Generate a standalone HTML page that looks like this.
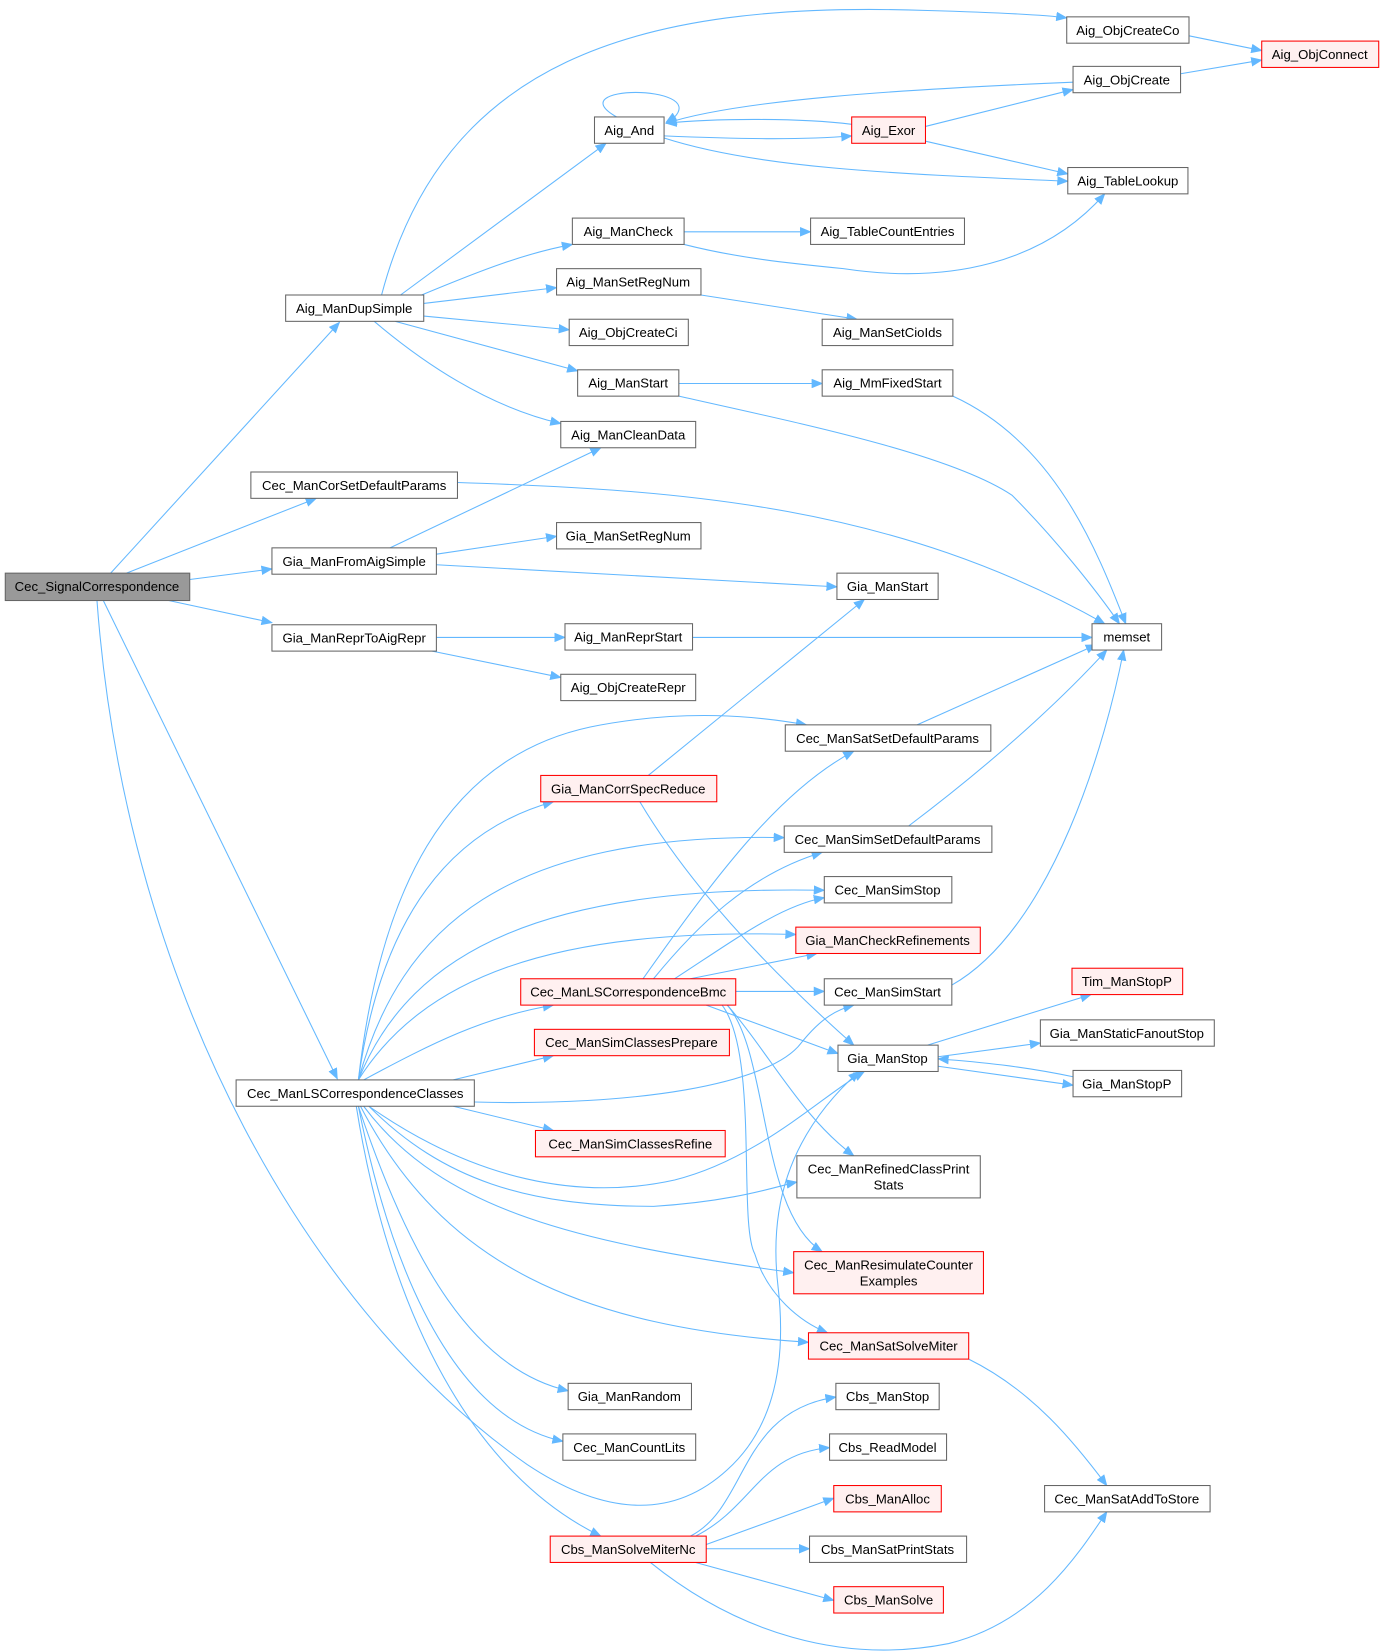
<!DOCTYPE html>
<html><head><meta charset="utf-8"><style>
html,body{margin:0;padding:0;background:#fff;}
svg{display:block;}
text{font-family:"Liberation Sans",Arial,sans-serif;font-size:12.5px;fill:#000;text-anchor:middle;}
.n{fill:#fff;stroke:#666;stroke-width:1;}
.r{fill:#fff0f0;stroke:#ff0000;stroke-width:1;}
.g{fill:#999;stroke:#666;stroke-width:1;}
.e{fill:none;stroke:#63b8ff;stroke-width:1;marker-end:url(#a);}
</style></head><body>
<svg width="1384" height="1652" viewBox="0 0 1313 1568" preserveAspectRatio="none">
<defs><marker id="a" markerWidth="11" markerHeight="9" refX="10" refY="4.5" orient="auto" markerUnits="userSpaceOnUse"><path d="M0,0 L11,4.5 L0,9 z" fill="#63b8ff"/></marker></defs>
<g>
<path class="e" d="M105,544 L322,306"/>
<path class="e" d="M120,544 L300,473"/>
<path class="e" d="M180,550 L258,540"/>
<path class="e" d="M160,570 L258,591"/>
<path class="e" d="M98,570 L320,1024"/>
<path class="e" d="M92,570 C120,950 300,1250 500,1390 C560,1430 630,1450 690,1395 C740,1350 745,1280 738,1220 C730,1150 745,1080 815,1017"/>
<path class="e" d="M362,280 C420,60 600,0 880,10 C950,12 990,14 1012,17"/>
<path class="e" d="M380,280 L575,136"/>
<path class="e" d="M400,280 C460,255 500,240 543,232"/>
<path class="e" d="M402,288 L528,273"/>
<path class="e" d="M402,300 L540,313"/>
<path class="e" d="M375,305 L548,352"/>
<path class="e" d="M355,305 C420,360 480,390 532,402"/>
<path class="e" d="M585,111 C530,80 670,80 640,111 L632,116"/>
<path class="e" d="M630,129 C700,132 760,133 808,129"/>
<path class="e" d="M808,118 C760,112 680,112 632,117"/>
<path class="e" d="M1018,78 C850,85 700,95 632,117"/>
<path class="e" d="M630,131 C720,160 850,165 1013,172"/>
<path class="e" d="M878,120 L1018,85"/>
<path class="e" d="M878,134 L1013,165"/>
<path class="e" d="M1128,34 L1197,48"/>
<path class="e" d="M1120,70 L1197,57"/>
<path class="e" d="M649,220 L769,220"/>
<path class="e" d="M649,232 C700,245 750,250 800,255 C900,270 990,250 1048,184"/>
<path class="e" d="M665,280 L813,303"/>
<path class="e" d="M644,364 L780,364"/>
<path class="e" d="M644,376 C750,400 900,430 960,470 C1000,510 1040,560 1062,592"/>
<path class="e" d="M904,376 C1000,420 1040,520 1068,592"/>
<path class="e" d="M434,458 C650,465 850,480 1048,592"/>
<path class="e" d="M370,520 L570,425"/>
<path class="e" d="M414,526 L528,509"/>
<path class="e" d="M414,536 L794,557"/>
<path class="e" d="M414,605 L536,605"/>
<path class="e" d="M410,618 L532,643"/>
<path class="e" d="M657,605 L1036,605"/>
<path class="e" d="M615,736 L820,569"/>
<path class="e" d="M870,688 L1040,612"/>
<path class="e" d="M862,784 C960,710 1020,650 1050,617"/>
<path class="e" d="M903,935 C1000,880 1050,700 1066,617"/>
<path class="e" d="M340,1025 C360,850 420,720 560,690 C650,672 720,680 765,688"/>
<path class="e" d="M340,1025 C360,880 420,790 525,761"/>
<path class="e" d="M340,1025 C380,880 480,790 744,795"/>
<path class="e" d="M340,1025 C390,900 520,840 782,845"/>
<path class="e" d="M340,1025 C400,930 520,880 755,887"/>
<path class="e" d="M345,1025 C410,990 460,965 525,954"/>
<path class="e" d="M430,1025 L525,1002"/>
<path class="e" d="M450,1046 C600,1050 730,1030 760,990 C780,965 795,958 810,954"/>
<path class="e" d="M430,1050 L525,1073"/>
<path class="e" d="M350,1050 C450,1120 550,1140 640,1120 C720,1100 780,1040 820,1017"/>
<path class="e" d="M350,1050 C420,1120 500,1145 620,1145 C700,1140 740,1125 756,1122"/>
<path class="e" d="M345,1050 C420,1150 550,1180 753,1208"/>
<path class="e" d="M342,1050 C420,1200 550,1260 767,1274"/>
<path class="e" d="M340,1050 C390,1200 450,1300 539,1320"/>
<path class="e" d="M340,1050 C380,1250 450,1350 534,1368"/>
<path class="e" d="M338,1050 C370,1250 450,1400 570,1458"/>
<path class="e" d="M610,929 C680,830 740,750 810,713"/>
<path class="e" d="M620,929 C660,880 710,830 780,809"/>
<path class="e" d="M640,929 C700,890 740,860 782,852"/>
<path class="e" d="M655,929 L775,905"/>
<path class="e" d="M698,941 L782,941"/>
<path class="e" d="M670,954 L795,1000"/>
<path class="e" d="M690,954 C730,1000 760,1060 810,1097"/>
<path class="e" d="M690,954 C730,1000 720,1150 780,1188"/>
<path class="e" d="M685,954 C720,1000 700,1160 716,1190 C728,1230 760,1255 785,1265"/>
<path class="e" d="M607,761 C660,850 740,930 810,992"/>
<path class="e" d="M880,992 L1035,944"/>
<path class="e" d="M890,1003 L987,990"/>
<path class="e" d="M1018,1022 C970,1012 930,1008 890,1005"/>
<path class="e" d="M890,1012 L1018,1030"/>
<path class="e" d="M919,1290 C980,1320 1020,1370 1050,1410"/>
<path class="e" d="M655,1458 C710,1430 700,1340 793,1326"/>
<path class="e" d="M660,1458 C715,1430 720,1380 787,1374"/>
<path class="e" d="M670,1466 L791,1422"/>
<path class="e" d="M670,1470 L768,1470"/>
<path class="e" d="M660,1483 L791,1519"/>
<path class="e" d="M617,1483 C700,1550 800,1580 900,1560 C980,1540 1020,1480 1050,1435"/>
</g>
<g>
<rect class="g" x="5" y="544" width="175" height="26"/><text x="92" y="561">Cec_SignalCorrespondence</text>
<rect class="n" x="271" y="280" width="131" height="25"/><text x="336" y="297">Aig_ManDupSimple</text>
<rect class="n" x="238" y="448" width="196" height="25"/><text x="336" y="465">Cec_ManCorSetDefaultParams</text>
<rect class="n" x="258" y="520" width="156" height="25"/><text x="336" y="537">Gia_ManFromAigSimple</text>
<rect class="n" x="258" y="593" width="156" height="25"/><text x="336" y="610">Gia_ManReprToAigRepr</text>
<rect class="n" x="224" y="1025" width="226" height="25"/><text x="337" y="1042">Cec_ManLSCorrespondenceClasses</text>
<rect class="n" x="1012" y="16" width="116" height="25"/><text x="1070" y="33">Aig_ObjCreateCo</text>
<rect class="r" x="1197" y="39" width="111" height="25"/><text x="1252" y="56">Aig_ObjConnect</text>
<rect class="n" x="1018" y="63" width="102" height="25"/><text x="1069" y="80">Aig_ObjCreate</text>
<rect class="n" x="564" y="111" width="66" height="25"/><text x="597" y="128">Aig_And</text>
<rect class="r" x="808" y="111" width="70" height="25"/><text x="843" y="128">Aig_Exor</text>
<rect class="n" x="1013" y="159" width="114" height="25"/><text x="1070" y="176">Aig_TableLookup</text>
<rect class="n" x="543" y="207" width="106" height="25"/><text x="596" y="224">Aig_ManCheck</text>
<rect class="n" x="769" y="207" width="146" height="25"/><text x="842" y="224">Aig_TableCountEntries</text>
<rect class="n" x="528" y="255" width="137" height="25"/><text x="596" y="272">Aig_ManSetRegNum</text>
<rect class="n" x="780" y="303" width="124" height="25"/><text x="842" y="320">Aig_ManSetCioIds</text>
<rect class="n" x="540" y="303" width="113" height="25"/><text x="596" y="320">Aig_ObjCreateCi</text>
<rect class="n" x="548" y="351" width="96" height="25"/><text x="596" y="368">Aig_ManStart</text>
<rect class="n" x="780" y="351" width="124" height="25"/><text x="842" y="368">Aig_MmFixedStart</text>
<rect class="n" x="532" y="400" width="128" height="25"/><text x="596" y="417">Aig_ManCleanData</text>
<rect class="n" x="528" y="496" width="137" height="25"/><text x="596" y="513">Gia_ManSetRegNum</text>
<rect class="n" x="794" y="544" width="96" height="25"/><text x="842" y="561">Gia_ManStart</text>
<rect class="n" x="1036" y="592" width="66" height="25"/><text x="1069" y="609">memset</text>
<rect class="n" x="536" y="592" width="121" height="25"/><text x="596" y="609">Aig_ManReprStart</text>
<rect class="n" x="532" y="640" width="128" height="25"/><text x="596" y="657">Aig_ObjCreateRepr</text>
<rect class="n" x="745" y="688" width="195" height="25"/><text x="842" y="705">Cec_ManSatSetDefaultParams</text>
<rect class="r" x="513" y="736" width="167" height="25"/><text x="596" y="753">Gia_ManCorrSpecReduce</text>
<rect class="n" x="744" y="784" width="197" height="25"/><text x="842" y="801">Cec_ManSimSetDefaultParams</text>
<rect class="n" x="782" y="832" width="121" height="25"/><text x="842" y="849">Cec_ManSimStop</text>
<rect class="r" x="755" y="880" width="175" height="25"/><text x="842" y="897">Gia_ManCheckRefinements</text>
<rect class="r" x="494" y="929" width="204" height="25"/><text x="596" y="946">Cec_ManLSCorrespondenceBmc</text>
<rect class="n" x="782" y="929" width="121" height="25"/><text x="842" y="946">Cec_ManSimStart</text>
<rect class="r" x="1017" y="919" width="105" height="25"/><text x="1069" y="936">Tim_ManStopP</text>
<rect class="n" x="987" y="968" width="165" height="25"/><text x="1069" y="985">Gia_ManStaticFanoutStop</text>
<rect class="n" x="795" y="992" width="95" height="25"/><text x="842" y="1009">Gia_ManStop</text>
<rect class="n" x="1018" y="1016" width="103" height="25"/><text x="1069" y="1033">Gia_ManStopP</text>
<rect class="r" x="507" y="977" width="185" height="25"/><text x="599" y="994">Cec_ManSimClassesPrepare</text>
<rect class="r" x="508" y="1073" width="180" height="25"/><text x="598" y="1090">Cec_ManSimClassesRefine</text>
<rect class="n" x="756" y="1097" width="174" height="40"/><text x="843" y="1114">Cec_ManRefinedClassPrint</text><text x="843" y="1129">Stats</text>
<rect class="r" x="753" y="1188" width="180" height="40"/><text x="843" y="1205">Cec_ManResimulateCounter</text><text x="843" y="1220">Examples</text>
<rect class="r" x="767" y="1265" width="152" height="25"/><text x="843" y="1282">Cec_ManSatSolveMiter</text>
<rect class="n" x="539" y="1313" width="117" height="25"/><text x="597" y="1330">Gia_ManRandom</text>
<rect class="n" x="793" y="1313" width="98" height="25"/><text x="842" y="1330">Cbs_ManStop</text>
<rect class="n" x="534" y="1361" width="126" height="25"/><text x="597" y="1378">Cec_ManCountLits</text>
<rect class="n" x="787" y="1361" width="111" height="25"/><text x="842" y="1378">Cbs_ReadModel</text>
<rect class="n" x="991" y="1410" width="157" height="25"/><text x="1069" y="1427">Cec_ManSatAddToStore</text>
<rect class="r" x="791" y="1410" width="102" height="25"/><text x="842" y="1427">Cbs_ManAlloc</text>
<rect class="r" x="522" y="1458" width="148" height="25"/><text x="596" y="1475">Cbs_ManSolveMiterNc</text>
<rect class="n" x="768" y="1458" width="149" height="25"/><text x="842" y="1475">Cbs_ManSatPrintStats</text>
<rect class="r" x="791" y="1506" width="104" height="25"/><text x="843" y="1523">Cbs_ManSolve</text>
</g>
</svg>
</body></html>
